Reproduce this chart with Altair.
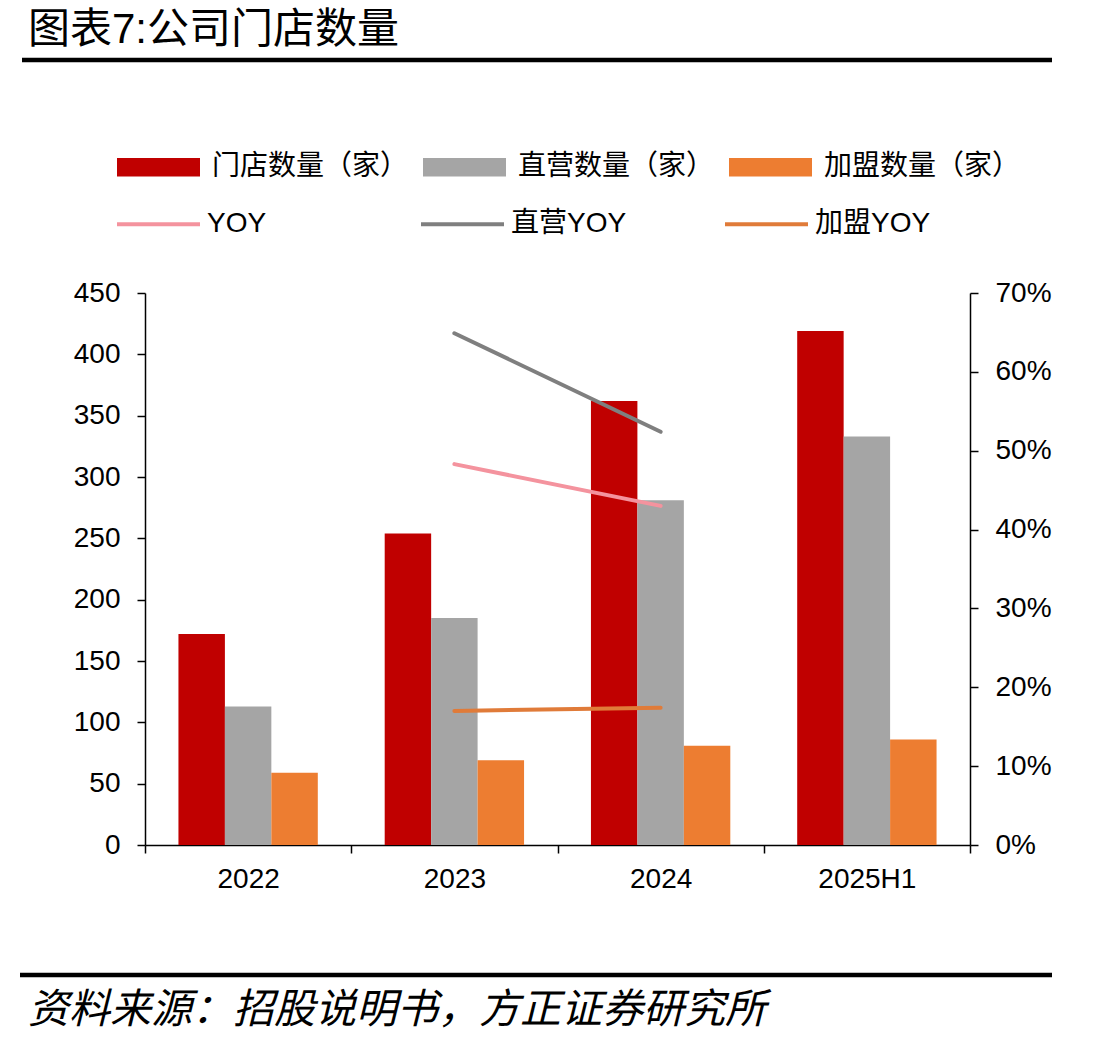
import altair as alt
import pandas as pd

# Store counts by period (stores)
years = ["2022", "2023", "2024", "2025H1"]
store_total = [172, 254, 362, 419]
store_direct = [113, 185, 281, 333]
store_franchise = [59, 69, 81, 86]

# Year-over-year growth (only 2023 and 2024 reported)
yoy_years = ["2023", "2024"]
yoy_total = [0.483, 0.430]
yoy_direct = [0.649, 0.524]
yoy_franchise = [0.170, 0.174]

bar_names = ["门店数量（家）", "直营数量（家）", "加盟数量（家）"]
bar_colors = ["#C00000", "#A5A5A5", "#ED7D31"]
line_names = ["YOY", "直营YOY", "加盟YOY"]
line_colors = ["#F4939E", "#7F7F7F", "#E07B39"]

title_text = "图表7:公司门店数量"
source_text = "资料来源：招股说明书，方正证券研究所"

LATIN = "Liberation Sans"
CJK = "Liberation Sans, Noto Sans CJK SC"

bar_rows = []
for name, vals in zip(bar_names, [store_total, store_direct, store_franchise]):
    for y, v in zip(years, vals):
        bar_rows.append({"year": y, "series": name, "value": v})
bar_df = pd.DataFrame(bar_rows)

line_rows = []
for name, vals in zip(line_names, [yoy_total, yoy_direct, yoy_franchise]):
    for y, v in zip(yoy_years, vals):
        line_rows.append({"year": y, "series": name, "value": v})
line_df = pd.DataFrame(line_rows)

# Full-width bands so category ticks fall on the band boundaries;
# the gap between groups comes from the offset scale's outer padding.
x_scale = alt.Scale(domain=years, paddingInner=0, paddingOuter=0)

bars = alt.Chart(bar_df).mark_bar().encode(
    x=alt.X(
        "year:N",
        scale=x_scale,
        title=None,
        axis=alt.Axis(labelAngle=0, tickBand="extent", labelPadding=12),
    ),
    xOffset=alt.XOffset(
        "series:N",
        scale=alt.Scale(domain=bar_names, paddingInner=0, paddingOuter=0.72),
    ),
    y=alt.Y(
        "value:Q",
        scale=alt.Scale(domain=[0, 450], nice=False),
        title=None,
        axis=alt.Axis(values=list(range(0, 451, 50)), labelPadding=17),
    ),
    color=alt.Color(
        "series:N",
        scale=alt.Scale(domain=bar_names, range=bar_colors),
        legend=alt.Legend(
            title=None,
            orient="none",
            legendX=-28,
            legendY=-167.5,
            direction="horizontal",
            columns=3,
            gridAlign="all",
            columnPadding=14,
            padding=0,
            symbolType="M-1,-0.223L1,-0.223L1,0.223L-1,0.223Z",
            symbolSize=6889,
            symbolStrokeWidth=0,
            symbolOpacity=1,
            labelFont=CJK,
            labelFontSize=28,
            labelColor="black",
            labelOffset=12,
            labelLimit=400,
        ),
    ),
)

lines = alt.Chart(line_df).mark_line(strokeWidth=4, strokeCap="round").encode(
    x=alt.X("year:N", scale=x_scale, title=None),
    y=alt.Y(
        "value:Q",
        scale=alt.Scale(domain=[0, 0.7], nice=False),
        title=None,
        axis=alt.Axis(
            orient="right",
            format=".0%",
            values=[0, 0.1, 0.2, 0.3, 0.4, 0.5, 0.6, 0.7],
            labelPadding=17,
        ),
    ),
    stroke=alt.Stroke(
        "series:N",
        scale=alt.Scale(domain=line_names, range=line_colors),
        legend=alt.Legend(
            title=None,
            orient="none",
            legendX=-30,
            legendY=-112.5,
            direction="horizontal",
            columns=3,
            gridAlign="all",
            columnPadding=90,
            padding=0,
            symbolType="stroke",
            symbolSize=6889,
            symbolStrokeWidth=4,
            labelFont=CJK,
            labelFontSize=28,
            labelColor="black",
            labelOffset=5,
            labelLimit=400,
        ),
    ),
    detail="series:N",
)

# Heading, separators and source note around the plot
title_mark = alt.Chart(pd.DataFrame({"label": [title_text]})).mark_text(
    align="left", baseline="middle", fontSize=42, font=CJK, color="black"
).encode(x=alt.value(-117), y=alt.value(-263), text="label:N")

source_mark = alt.Chart(pd.DataFrame({"label": [source_text]})).mark_text(
    align="left", baseline="middle", fontSize=41, font=CJK,
    fontStyle="italic", color="black"
).encode(x=alt.value(-117), y=alt.value(718), text="label:N")

top_rule = alt.Chart(pd.DataFrame({"k": [0]})).mark_rule(
    color="black", strokeWidth=4.5
).encode(x=alt.value(-123), x2=alt.value(907), y=alt.value(-233))

bottom_rule = alt.Chart(pd.DataFrame({"k": [0]})).mark_rule(
    color="black", strokeWidth=4.5
).encode(x=alt.value(-125), x2=alt.value(907), y=alt.value(682))

chart = (
    alt.layer(bars, lines, title_mark, source_mark, top_rule, bottom_rule)
    .resolve_scale(y="independent")
    .properties(
        width=825,
        height=552,
        autosize=alt.AutoSizeParams(type="none"),
        padding={"left": 145, "top": 293, "right": 128, "bottom": 200},
        background="white",
    )
    .configure_axis(
        labelFont=LATIN,
        labelFontSize=28,
        labelColor="black",
        domainColor="black",
        domainWidth=1.5,
        tickColor="black",
        tickWidth=1.5,
        tickSize=8,
        grid=False,
    )
    .configure_view(strokeWidth=0)
)

chart.save("out.html", embed_options={"renderer": "svg", "actions": False})
